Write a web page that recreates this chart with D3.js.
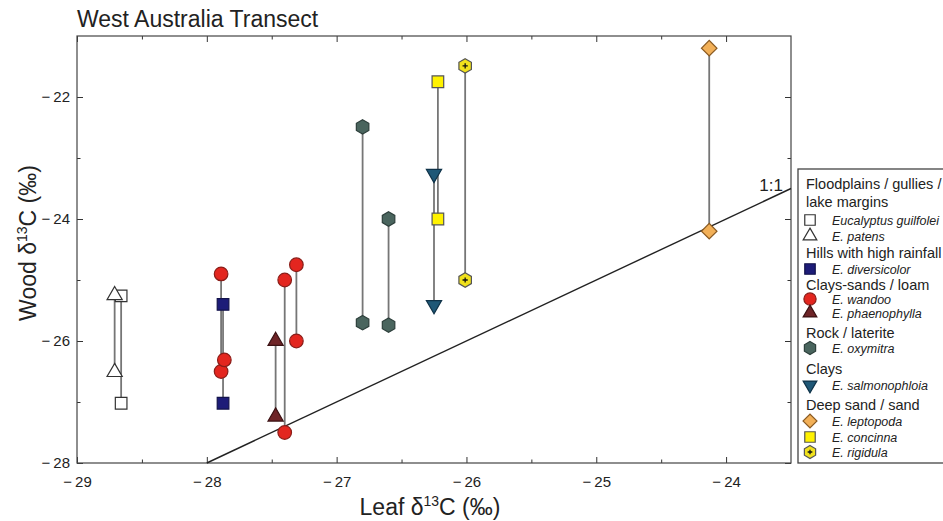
<!DOCTYPE html>
<html>
<head>
<meta charset="utf-8">
<script src="https://cdnjs.cloudflare.com/ajax/libs/d3/7.8.5/d3.min.js"></script>
<style>
  html, body { margin: 0; padding: 0; background: #fff; overflow: hidden; }
  svg { display: block; font-family: "Liberation Sans", Arial, Helvetica, sans-serif; }
</style>
</head>
<body>
<svg id="chart" width="943" height="521"></svg>
<script>
// West Australia transect: wood vs leaf d13C, pairs joined by vertical lines

const xMajor = [-29, -28, -27, -26, -25, -24];
const xMinor = [-28.5, -27.5, -26.5, -25.5, -24.5];
const yMajor = [-28, -26, -24, -22];
const yMinor = [-27, -25, -23];
const oneToOne = [-28, -23.5];

// species shown in the legend
const speciesKeys = ['guilfoylei', 'patens', 'diversicolor', 'wandoo', 'phaenophylla',
  'oxymitra', 'salmonophloia', 'leptopoda', 'concinna', 'rigidula'];
const speciesNames = ['Eucalyptus guilfolei', 'E. patens', 'E. diversicolor', 'E. wandoo',
  'E. phaenophylla', 'E. oxymitra', 'E. salmonophloia', 'E. leptopoda', 'E. concinna', 'E. rigidula'];
const habitatHeaders = [['Floodplains / gullies /', 'lake margins'], ['Hills with high rainfall'],
  ['Clays-sands / loam'], ['Rock / laterite'], ['Clays'], ['Deep sand / sand']];
const habitatSpecies = [[0, 1], [2], [3, 4], [5], [6], [7, 8, 9]];

// observations: leaf value, upper and lower wood value (null = single point)
const obsSpecies = ['guilfoylei', 'patens', 'diversicolor', 'wandoo', 'wandoo', 'wandoo', 'wandoo',
  'phaenophylla', 'oxymitra', 'oxymitra', 'salmonophloia', 'concinna', 'rigidula', 'leptopoda'];
const obsLeaf = [-28.66, -28.71, -27.875, -27.89, -27.865, -27.40, -27.31,
  -27.47, -26.80, -26.60, -26.25, -26.22, -26.01, -24.13];
const obsWoodHigh = [-25.26, -25.25, -25.40, -24.90, -26.31, -25.00, -24.75,
  -26.00, -22.49, -24.00, -23.26, -21.75, -21.49, -21.20];
const obsWoodLow = [-27.02, -26.51, -27.02, -26.50, null, -27.50, -26.00,
  -27.24, -25.70, -25.74, -25.41, -24.00, -25.00, -24.20];

const legendRowY = [184, 202, 220, 236, 253, 269, 285, 299, 313, 333, 348, 369, 385, 405, 421, 437, 452];

const hexagon = {
  draw(ctx, size) {
    const r = Math.sqrt(size / (1.5 * Math.sqrt(3)));
    for (let i = 0; i < 6; i++) {
      const a = Math.PI / 3 * i - Math.PI / 2;
      if (i === 0) ctx.moveTo(r * Math.cos(a), r * Math.sin(a));
      else ctx.lineTo(r * Math.cos(a), r * Math.sin(a));
    }
    ctx.closePath();
  }
};

const styles = {
  guilfoylei:    { type: d3.symbolSquare,   size: 135, rot: 0,   fill: '#ffffff', stroke: '#333' },
  patens:        { type: d3.symbolTriangle, size: 100, rot: 0,   fill: '#ffffff', stroke: '#333' },
  diversicolor:  { type: d3.symbolSquare,   size: 135, rot: 0,   fill: '#1d1c78', stroke: '#12124a' },
  wandoo:        { type: d3.symbolCircle,   size: 145, rot: 0,   fill: '#e3261f', stroke: '#8a1d18' },
  phaenophylla:  { type: d3.symbolTriangle, size: 100, rot: 0,   fill: '#6e2427', stroke: '#3b1113' },
  oxymitra:      { type: hexagon,           size: 135, rot: 0,   fill: '#4a655e', stroke: '#2d3f3b' },
  salmonophloia: { type: d3.symbolTriangle, size: 100, rot: 180, fill: '#1f5877', stroke: '#0f3248' },
  leptopoda:     { type: d3.symbolSquare,   size: 120, rot: 45,  fill: '#f2b058', stroke: '#8a5a22' },
  concinna:      { type: d3.symbolSquare,   size: 135, rot: 0,   fill: '#fff200', stroke: '#555' },
  rigidula:      { type: hexagon,           size: 135, rot: 0,   fill: '#f0e11c', stroke: '#555', plus: true }
};

const svg = d3.select('#chart');
const x = d3.scaleLinear().domain([-29, -23.5]).range([77, 791]);
const y = d3.scaleLinear().domain([-28, -21]).range([463, 36]);

const fmt = d => (d < 0 ? '\u2212\u2009' : '') + Math.abs(d);

function styleAxis(g) {
  g.select('.domain').remove();
  g.selectAll('line').attr('stroke', '#333').attr('stroke-width', 1);
  g.selectAll('text').attr('fill', '#222').style('font-size', '15px');
}

svg.append('g').attr('transform', 'translate(0,463)')
  .call(d3.axisBottom(x).tickValues(xMajor).tickSize(-6).tickPadding(13).tickFormat(fmt)).call(styleAxis);
svg.append('g').attr('transform', 'translate(0,463)')
  .call(d3.axisBottom(x).tickValues(xMinor).tickSize(-3.5).tickFormat('')).call(styleAxis);
svg.append('g').attr('transform', 'translate(0,36)')
  .call(d3.axisTop(x).tickValues(xMajor).tickSize(-6).tickFormat('')).call(styleAxis);
svg.append('g').attr('transform', 'translate(0,36)')
  .call(d3.axisTop(x).tickValues(xMinor).tickSize(-3.5).tickFormat('')).call(styleAxis);
svg.append('g').attr('transform', 'translate(77,0)')
  .call(d3.axisLeft(y).tickValues(yMajor).tickSize(-6).tickPadding(7).tickFormat(fmt)).call(styleAxis);
svg.append('g').attr('transform', 'translate(77,0)')
  .call(d3.axisLeft(y).tickValues(yMinor).tickSize(-3.5).tickFormat('')).call(styleAxis);
svg.append('g').attr('transform', 'translate(791,0)')
  .call(d3.axisRight(y).tickValues(yMajor).tickSize(-6).tickFormat('')).call(styleAxis);
svg.append('g').attr('transform', 'translate(791,0)')
  .call(d3.axisRight(y).tickValues(yMinor).tickSize(-3.5).tickFormat('')).call(styleAxis);

svg.append('rect')
  .attr('x', x(-29)).attr('y', y(-21))
  .attr('width', x(-23.5) - x(-29)).attr('height', y(-28) - y(-21))
  .attr('fill', 'none').attr('stroke', '#444').attr('stroke-width', 1.2);

// 1:1 line
svg.append('line')
  .attr('x1', x(oneToOne[0])).attr('y1', y(oneToOne[0]))
  .attr('x2', x(oneToOne[1])).attr('y2', y(oneToOne[1]))
  .attr('stroke', '#222').attr('stroke-width', 1.4);
svg.append('text').attr('x', 783).attr('y', 191).attr('text-anchor', 'end')
  .style('font-size', '17px').attr('fill', '#222').text('1:1');

// titles
svg.append('text').attr('x', 77).attr('y', 27).style('font-size', '23px').attr('fill', '#222')
  .text('West Australia Transect');

const xt = svg.append('text').attr('x', 430).attr('y', 515).attr('text-anchor', 'middle')
  .style('font-size', '23px').attr('fill', '#222');
xt.append('tspan').text('Leaf \u03b4');
xt.append('tspan').attr('dy', -9).style('font-size', '14px').text('13');
xt.append('tspan').attr('dy', 9).text('C (\u2030)');

const yt = svg.append('text').attr('transform', 'translate(36,243) rotate(-90)')
  .attr('text-anchor', 'middle').style('font-size', '23px').attr('fill', '#222');
yt.append('tspan').text('Wood \u03b4');
yt.append('tspan').attr('dy', -9).style('font-size', '14px').text('13');
yt.append('tspan').attr('dy', 9).text('C (\u2030)');

// data
const obs = obsSpecies.map((s, i) => ({ s, leaf: obsLeaf[i], hi: obsWoodHigh[i], lo: obsWoodLow[i] }));

svg.append('g').selectAll('line').data(obs.filter(d => d.lo !== null)).join('line')
  .attr('x1', d => x(d.leaf)).attr('x2', d => x(d.leaf))
  .attr('y1', d => y(d.hi)).attr('y2', d => y(d.lo))
  .attr('stroke', '#767676').attr('stroke-width', 1.8);

function drawMarker(g, key, cx, cy, scale) {
  const st = styles[key];
  const sym = d3.symbol().type(st.type).size(st.size * scale * scale);
  const m = g.append('g').attr('transform', `translate(${cx},${cy}) rotate(${st.rot})`);
  m.append('path').attr('d', sym()).attr('fill', st.fill).attr('stroke', st.stroke).attr('stroke-width', 1.2);
  if (st.plus) {
    const p = 2.6 * scale;
    m.append('path').attr('d', `M${-p},0H${p}M0,${-p}V${p}`).attr('stroke', '#111').attr('stroke-width', 1.3);
  }
}

const pts = svg.append('g');
obs.forEach(d => {
  if (d.lo !== null) drawMarker(pts, d.s, x(d.leaf), y(d.lo), 1);
  drawMarker(pts, d.s, x(d.leaf), y(d.hi), 1);
});

// legend
const lg = svg.append('g');
lg.append('rect').attr('x', 798).attr('y', 169).attr('width', 170).attr('height', 294)
  .attr('fill', '#fff').attr('stroke', '#444').attr('stroke-width', 1.3);

let row = 0;
habitatHeaders.forEach((lines, h) => {
  lines.forEach(t => {
    lg.append('text').attr('x', 806).attr('y', legendRowY[row++]).attr('dy', '0.36em')
      .style('font-size', '14.5px').attr('fill', '#222').text(t);
  });
  habitatSpecies[h].forEach(si => {
    const cy = legendRowY[row++];
    drawMarker(lg, speciesKeys[si], 810, cy, 0.9);
    lg.append('text').attr('x', 832).attr('y', cy).attr('dy', '0.36em')
      .style('font-size', '12.5px').style('font-style', 'italic').attr('fill', '#222')
      .text(speciesNames[si]);
  });
});
</script>
</body>
</html>
